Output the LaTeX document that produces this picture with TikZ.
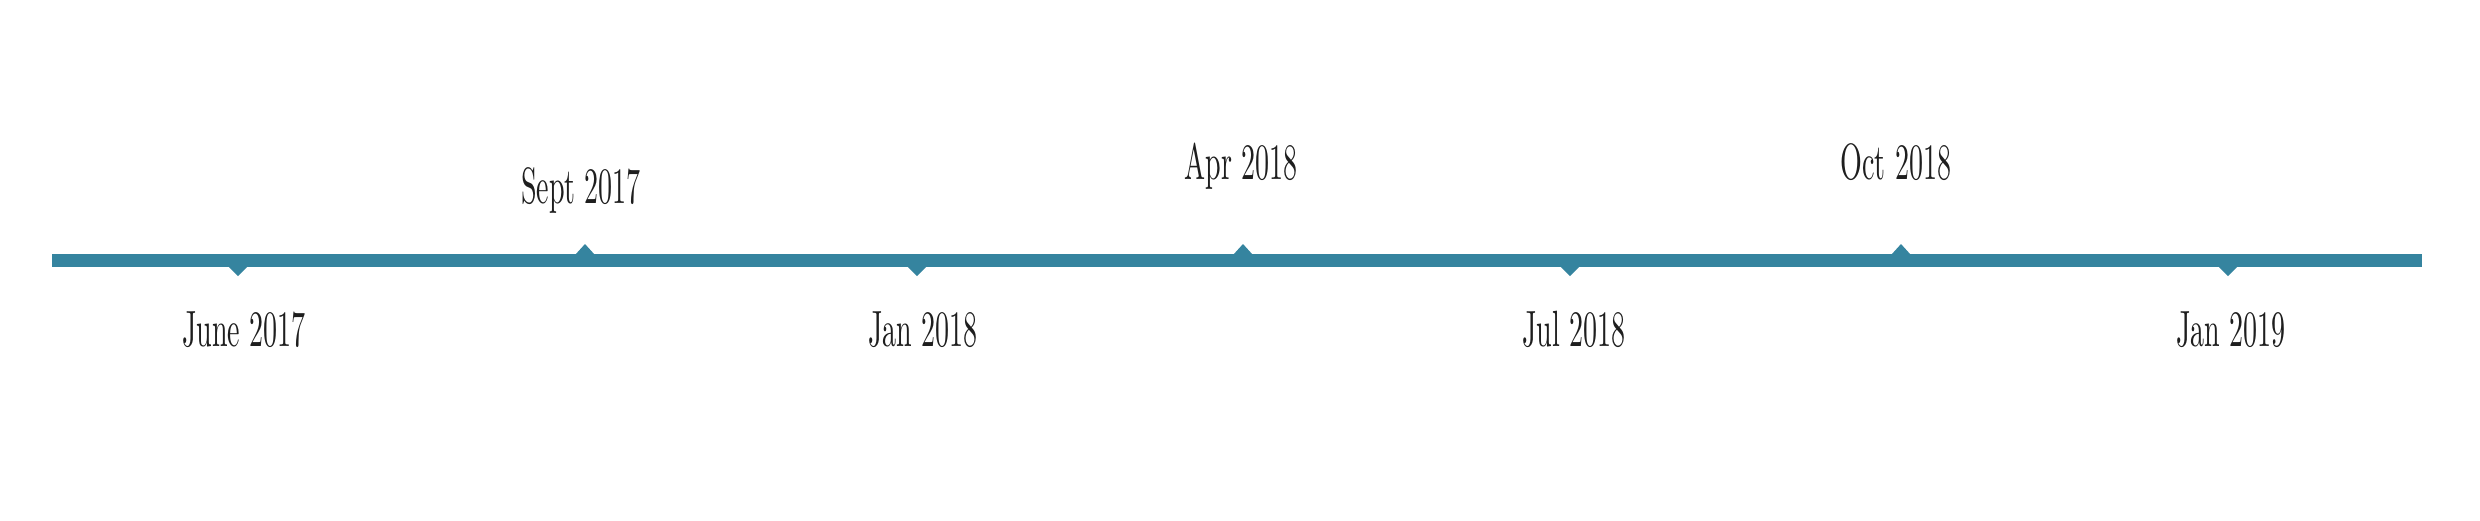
\documentclass[tikz,border=0pt]{standalone}
\usepackage{fontspec}
\newfontfamily\datefont{lmroman10-regular.otf}[FakeStretch=0.55]
\definecolor{lineblue}{HTML}{35849F}
\definecolor{ink}{HTML}{1E1E1E}
\tikzset{
  date/.style={anchor=base, text=ink, inner sep=0pt, font=\datefont\fontsize{14.5}{17}\selectfont},
  tick/.style={fill=lineblue}
}
\begin{document}
\begin{tikzpicture}[x=0.01cm, y=-0.01cm]
\useasboundingbox (0,0) rectangle (2480,520);
\fill[lineblue] (52,254) rectangle (2422,267);
% markers below the line
\fill[tick] (228,266) -- (248,266) -- (238,276) -- cycle;
\fill[tick] (907,266) -- (927,266) -- (917,276) -- cycle;
\fill[tick] (1560,266) -- (1580,266) -- (1570,276) -- cycle;
\fill[tick] (2218,266) -- (2238,266) -- (2228,276) -- cycle;
% markers above the line
\fill[tick] (575,255) -- (595,255) -- (585,244) -- cycle;
\fill[tick] (1233,255) -- (1253,255) -- (1243,244) -- cycle;
\fill[tick] (1891,255) -- (1911,255) -- (1901,244) -- cycle;
\node[date] (jun17) at (244,346) {June 2017};
\node[date] (sep17) at (581,203) {Sept 2017};
\node[date] (jan18) at (923,346) {Jan 2018};
\node[date] (apr18) at (1241,179) {Apr 2018};
\node[date] (jul18) at (1574,346) {Jul 2018};
\node[date] (oct18) at (1896,179) {Oct 2018};
\node[date] (jan19) at (2231,346) {Jan 2019};
\end{tikzpicture}
\end{document}
